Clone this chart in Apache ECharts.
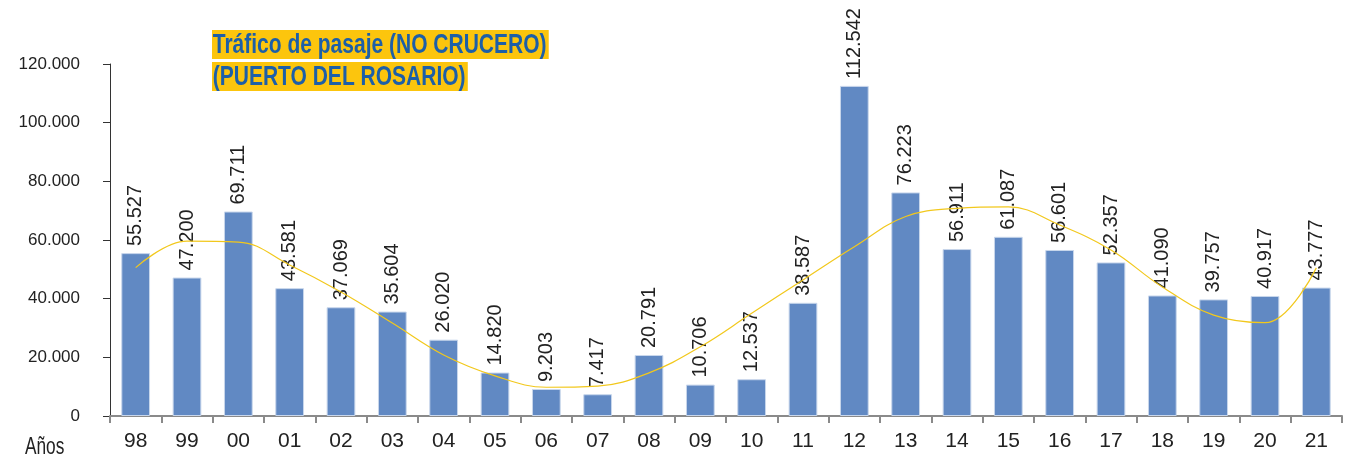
<!DOCTYPE html>
<html>
<head>
<meta charset="utf-8">
<script src="https://cdn.jsdelivr.net/npm/echarts@6/dist/echarts.min.js"></script>
<style>
  html, body { margin: 0; padding: 0; background: #fff; }
  #chart { width: 1352px; height: 458px; }
</style>
</head>
<body>
<div id="chart"></div>
<script>
// años (eje X)
const years = ['98', '99', '00', '01', '02', '03', '04', '05', '06', '07', '08', '09',
  '10', '11', '12', '13', '14', '15', '16', '17', '18', '19', '20', '21'];
// pasajeros (no crucero)
const passengers = [55527, 47200, 69711, 43581, 37069, 35604, 26020, 14820, 9203, 7417, 20791, 10706,
  12537, 38587, 112542, 76223, 56911, 61087, 56601, 52357, 41090, 39757, 40917, 43777];
// línea de tendencia
const trend = [50600, 59600, 59300, 51500, 42300, 31700, 20800, 13700, 9800, 10200, 14700, 23600,
  35000, 46400, 57700, 68000, 70800, 71300, 65100, 56600, 44000, 34400, 31800, 50500];
const yTicks = [0, 20000, 40000, 60000, 80000, 100000, 120000];

const FONT = '"Liberation Sans", Arial, sans-serif';
const fmt = v => String(v).replace(/\B(?=(\d{3})+(?!\d))/g, '.');

// texto condensado (escala horizontal) para imitar la tipografía estrecha del original
const narrowText = (text, x, y, font, fill, bg) => ({
  type: 'text', x: x, y: y, scaleX: 0.75,
  style: {
    text: text, fill: fill, font: font, align: 'left', verticalAlign: 'top',
    backgroundColor: bg, padding: bg ? [1, 3, 0, 1] : 0, lineHeight: 28
  }
});

const chart = echarts.init(document.getElementById('chart'));
chart.setOption({
  animation: false,
  grid: { left: 110, right: 10, top: 64, bottom: 42 },
  xAxis: {
    type: 'category',
    data: years,
    axisLine: { lineStyle: { color: '#8a8a8a', width: 2 } },
    axisTick: { show: true, length: 7, lineStyle: { color: '#8a8a8a', width: 2 } },
    axisLabel: { color: '#222', fontFamily: FONT, fontSize: 21, margin: 15 }
  },
  yAxis: {
    type: 'value',
    min: yTicks[0],
    max: yTicks[yTicks.length - 1],
    interval: 20000,
    splitLine: { show: false },
    axisLine: { show: true, lineStyle: { color: '#333', width: 1 } },
    axisTick: { show: true, length: 7, lineStyle: { color: '#333' } },
    axisLabel: { color: '#222', fontFamily: FONT, fontSize: 17, margin: 30, formatter: fmt }
  },
  graphic: [
    narrowText('Tráfico de pasaje (NO CRUCERO)', 212, 30, 'bold 28px ' + FONT, '#1d5fa8', '#fcc50d'),
    narrowText('(PUERTO DEL ROSARIO)', 212, 62, 'bold 28px ' + FONT, '#1d5fa8', '#fcc50d'),
    narrowText('Años', 25, 434, '23px ' + FONT, '#222', null)
  ],
  series: [
    {
      type: 'bar',
      data: passengers,
      barWidth: '56%',
      itemStyle: { color: '#6189c3', borderColor: '#c9d7ec', borderWidth: 1 },
      label: {
        show: true, position: 'top', rotate: 90, align: 'left', verticalAlign: 'middle',
        distance: 7, color: '#222', fontFamily: FONT, fontSize: 20, formatter: p => fmt(p.value)
      },
      z: 2
    },
    {
      type: 'line',
      data: trend,
      smooth: 0.4,
      symbol: 'none',
      lineStyle: { color: '#f2c81c', width: 1.2 },
      z: 3
    }
  ]
});
</script>
</body>
</html>
